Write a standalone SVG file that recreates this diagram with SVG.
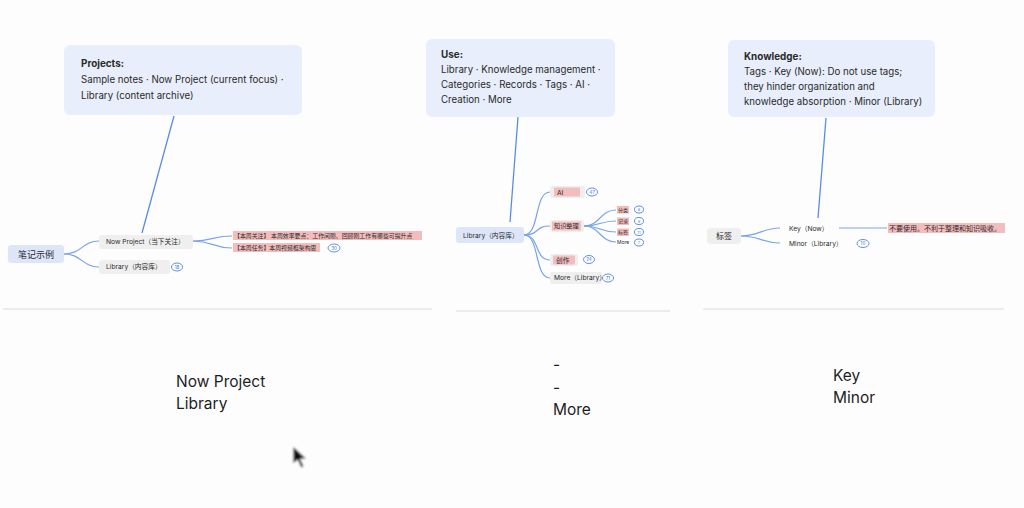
<svg xmlns="http://www.w3.org/2000/svg" width="1024" height="508" viewBox="0 0 1024 508">
<defs>
<style>
text{font-family:Inter,"Noto Sans CJK SC","Liberation Sans",sans-serif;fill:#2a2a2a}
.call{fill:#e8eefb}
.ct{font-size:9.7px}
.cb{font-size:9.9px;font-weight:bold}
.root{fill:#dde6f9}
.node{fill:#efefef}
.hl{fill:#f4bdbd}
.nt{font-size:6.7px}
.rt{font-size:5.9px}
.bd{fill:#fff;stroke:#4f83e3;stroke-width:0.9}
.bt{font-size:4.6px;fill:#3f74d8;text-anchor:middle}
.ln{fill:none;stroke:#7aa3ec;stroke-width:1.2}
.cl{fill:none;stroke:#5a8ce6;stroke-width:1.3}
.div{stroke:#dcdcdc;stroke-width:1.2}
.big{font-size:15.5px;fill:#1e1e1e}
</style>
<filter id="blur" x="-20%" y="-20%" width="140%" height="140%"><feGaussianBlur stdDeviation="0.8"/></filter>
</defs>
<rect width="1024" height="508" fill="#fdfdfd"/>

<g id="connectors">
<path class="cl" d="M174,116 L142,233"/>
<path class="ln" d="M64,254 C82,254 82,241 99,241"/>
<path class="ln" d="M64,254 C82,254 82,267 99,267"/>
<path class="ln" d="M193,241 C213,241 213,236 232,236"/>
<path class="ln" d="M193,241 C213,241 213,248 232,248"/>
<path class="cl" d="M518,117 L510,222"/>
<path class="ln" d="M524,235 C540,235 534,192 550,192"/>
<path class="ln" d="M524,235 C540,235 534,226 550,226"/>
<path class="ln" d="M524,235 C540,235 534,260 550,260"/>
<path class="ln" d="M524,235 C540,235 534,278 550,278"/>
<path class="ln" d="M584,226 C600,226 600,210 616,210"/>
<path class="ln" d="M584,226 C600,226 600,221 616,221"/>
<path class="ln" d="M584,226 C600,226 600,232 616,232"/>
<path class="ln" d="M584,226 C600,226 600,242 616,242"/>
<path class="cl" d="M826,118 L818,218"/>
<path class="ln" d="M741,236 C760,236 762,228 780,228"/>
<path class="ln" d="M741,236 C760,236 762,243 780,243"/>
<path class="ln" d="M839,228 L887,228"/>
</g>

<g id="callout-projects">
<rect class="call" x="64" y="45" width="238" height="70" rx="6"/>
<text class="cb" x="81" y="67">Projects:</text>
<text class="ct" x="81" y="83">Sample notes · Now Project (current focus) ·</text>
<text class="ct" x="81" y="99">Library (content archive)</text>
</g>

<g id="root-notes">
<rect class="root" x="8" y="245" width="56" height="18" rx="3"/>
<text x="36" y="257.5" style="font-size:9px" text-anchor="middle">笔记示例</text>
</g>
<g id="node-nowproject">
<rect class="node" x="99" y="235" width="94" height="14" rx="3"/>
<text class="nt" x="106" y="244.3">Now Project（当下关注）</text>
</g>
<g id="node-library1">
<rect class="node" x="99" y="260" width="71" height="14" rx="3"/>
<text class="nt" x="106" y="269.3">Library（内容库）</text>
<ellipse class="bd" cx="177" cy="267" rx="5.5" ry="4"/>
<text class="bt" x="177" y="268.6">18</text>
</g>
<g id="node-focus">
<rect class="hl" x="233" y="231" width="189" height="9"/>
<text class="rt" x="234" y="237.8">【本周关注】 本周效率要点：工作间隙、回顾刚工作有哪些可提升点</text>
</g>
<g id="node-task">
<rect class="hl" x="233" y="243" width="87" height="9"/>
<text class="rt" x="234" y="249.8">【本周任务】本周视频框架构思</text>
<ellipse class="bd" cx="334" cy="248" rx="6" ry="4"/>
<text class="bt" x="334" y="249.6">30</text>
</g>

<g id="callout-use">
<rect class="call" x="426" y="39" width="189" height="78" rx="6"/>
<text class="cb" x="441" y="58">Use:</text>
<text class="ct" x="441" y="73">Library · Knowledge management ·</text>
<text class="ct" x="441" y="88">Categories · Records · Tags · AI ·</text>
<text class="ct" x="441" y="103">Creation · More</text>
</g>

<g id="root-library">
<rect class="root" x="456" y="227" width="68" height="16" rx="3"/>
<text class="nt" x="463" y="237.5">Library（内容库）</text>
</g>
<g id="node-ai">
<rect class="node" x="550" y="186" width="35" height="12" rx="2"/>
<rect class="hl" x="554" y="187.5" width="26" height="9"/>
<text class="nt" x="557" y="194.5">AI</text>
<ellipse class="bd" cx="592" cy="192" rx="5.5" ry="4"/>
<text class="bt" x="592" y="193.6">47</text>
</g>
<g id="node-km">
<rect class="node" x="550" y="220" width="34" height="12" rx="2"/>
<rect class="hl" x="552" y="221.5" width="29" height="9"/>
<text x="554" y="228.3" style="font-size:6.2px">知识整理</text>
</g>
<g id="node-cat">
<rect class="hl" x="617" y="206" width="12" height="7.5"/>
<text x="618" y="211.8" style="font-size:5px">分类</text>
<ellipse class="bd" cx="639" cy="209.5" rx="4.5" ry="3.5"/>
<text class="bt" x="639" y="211" style="font-size:4px">8</text>
</g>
<g id="node-rec">
<rect class="hl" x="617" y="217.5" width="12" height="7.5"/>
<text x="618" y="223.3" style="font-size:5px">记录</text>
<ellipse class="bd" cx="639" cy="221" rx="4.5" ry="3.5"/>
<text class="bt" x="639" y="222.5" style="font-size:4px">6</text>
</g>
<g id="node-tags">
<rect class="hl" x="617" y="228.5" width="12" height="7.5"/>
<text x="618" y="234.3" style="font-size:5px">标签</text>
<ellipse class="bd" cx="639" cy="232" rx="4.5" ry="3.5"/>
<text class="bt" x="639" y="233.5" style="font-size:4px">11</text>
</g>
<g id="node-more-sub">
<text x="617" y="244" style="font-size:5px">More</text>
<ellipse class="bd" cx="639" cy="242.5" rx="4.5" ry="3.5"/>
<text class="bt" x="639" y="244" style="font-size:4px">7</text>
</g>
<g id="node-create">
<rect class="node" x="550" y="254" width="28" height="12" rx="2"/>
<rect class="hl" x="553" y="255.5" width="22" height="9"/>
<text class="nt" x="556" y="262.5">创作</text>
<ellipse class="bd" cx="589" cy="259.5" rx="5.5" ry="4"/>
<text class="bt" x="589" y="261.1">24</text>
</g>
<g id="node-more-lib">
<rect class="node" x="550" y="272" width="52" height="12" rx="2"/>
<text class="nt" x="554" y="280.3">More（Library）</text>
<ellipse class="bd" cx="608" cy="278" rx="5.5" ry="4"/>
<text class="bt" x="608" y="279.6">71</text>
</g>

<g id="callout-knowledge">
<rect class="call" x="728" y="40" width="207" height="77" rx="6"/>
<text class="cb" x="744" y="60">Knowledge:</text>
<text class="ct" x="744" y="74.5">Tags · Key (Now): Do not use tags;</text>
<text class="ct" x="744" y="89.5">they hinder organization and</text>
<text class="ct" x="744" y="104.5">knowledge absorption · Minor (Library)</text>
</g>

<g id="root-tags">
<rect class="node" x="707" y="228" width="34" height="16" rx="3"/>
<text x="724" y="239" style="font-size:8px" text-anchor="middle">标签</text>
</g>
<g id="node-key">
<text class="nt" x="789" y="230.5">Key（Now）</text>
</g>
<g id="node-minor">
<text class="nt" x="789" y="245.5">Minor（Library）</text>
<ellipse class="bd" cx="863" cy="243.5" rx="6" ry="4"/>
<text class="bt" x="863" y="245.1">10</text>
</g>
<g id="node-nouse">
<rect class="hl" x="888" y="223" width="117" height="10"/>
<text x="889" y="230.5" style="font-size:7px">不要使用。不利于整理和知识吸收。</text>
</g>

<g id="dividers">
<line class="div" x1="3" y1="309" x2="432" y2="309"/>
<line class="div" x1="456" y1="311" x2="670" y2="311"/>
<line class="div" x1="703" y1="309" x2="1004" y2="309"/>
</g>

<g id="bottom-text">
<text class="big" x="176" y="387">Now Project</text>
<text class="big" x="176" y="409">Library</text>
<text class="big" x="553" y="370">-</text>
<text class="big" x="553" y="393">-</text>
<text class="big" x="553" y="415">More</text>
<text class="big" x="833" y="381">Key</text>
<text class="big" x="833" y="403">Minor</text>
</g>

<g id="cursor" filter="url(#blur)">
<path d="M293,446 L293,464 L297.5,460 L301,468 L304,466.5 L300.5,459 L306.5,459 Z" fill="#111" stroke="#fff" stroke-width="1"/>
</g>
</svg>
